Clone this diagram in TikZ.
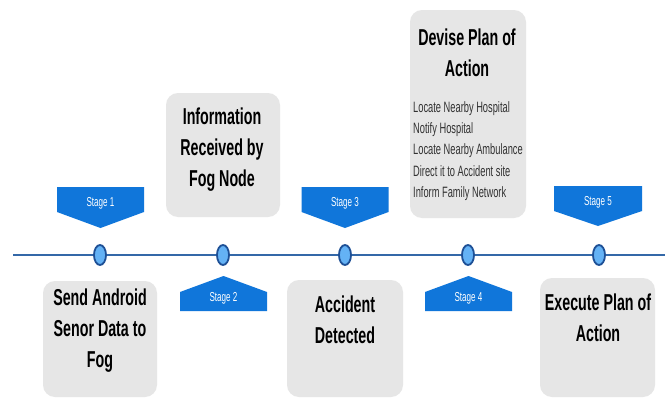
\documentclass[tikz,border=0pt]{standalone}
\usepackage{fontspec}
\setmainfont{Liberation Sans}
\newfontfamily\narrowfont[FakeStretch=0.62]{Liberation Sans}
\usetikzlibrary{shapes.geometric}
\definecolor{stageblue}{RGB}{16,118,218}
\definecolor{boxgray}{RGB}{230,230,230}
\definecolor{linecol}{RGB}{52,104,168}
\definecolor{dotfill}{RGB}{100,178,245}
\definecolor{dotdraw}{RGB}{30,80,150}
\definecolor{listcol}{RGB}{50,50,50}
\tikzset{
 graybox/.style={fill=boxgray, rounded corners=12pt},
 title/.style={font=\narrowfont\bfseries\fontsize{23}{31}\selectfont, align=center, text=black, inner sep=0pt},
 stagelabel/.style={font=\narrowfont\fontsize{13}{15}\selectfont, text=white, inner sep=0pt},
 stageshape/.style={fill=stageblue},
 dot/.style={ellipse, draw=dotdraw, fill=dotfill, line width=1.8pt, minimum width=12pt, minimum height=20pt, inner sep=0pt},
 timeline/.style={draw=linecol, line width=2pt},
 listtext/.style={font=\narrowfont\fontsize{15}{21.3}\selectfont, align=left, text=listcol, inner sep=0pt}
}
\begin{document}
\begin{tikzpicture}[x=1pt,y=-1pt]
\useasboundingbox (0,0) rectangle (665,399);
\fill[white] (0,0) rectangle (665,399);
% gray boxes
\fill[graybox] (43,281) rectangle (157,397);
\fill[graybox] (166,93) rectangle (280,217);
\fill[graybox] (287,280) rectangle (403,397);
\fill[graybox] (410,10) rectangle (526,218);
\fill[graybox] (540,278) rectangle (655,397);
% titles
\node[title] (t1) at (100,331) {Send Android\\Senor Data to\\Fog};
\node[title] (t2) at (222,150) {Information\\Received by\\Fog Node};
\node[title] (t3) at (345,320) {Accident\\Detected};
\node[title] (t4) at (467,53) {Devise Plan of\\Action};
\node[title] (t5) at (598,318) {Execute Plan of\\Action};
\node[listtext, anchor=west] (list) at (413,151) {Locate Nearby Hospital\\Notify Hospital\\Locate Nearby Ambulance\\Direct it to Accident site\\Inform Family Network};
% stage markers (down)
\fill[stageshape] (57,187) -- (144,187) -- (144,212) -- (100.5,228) -- (57,212) -- cycle;
\fill[stageshape] (301.5,187) -- (388.5,187) -- (388.5,212) -- (345,228) -- (301.5,212) -- cycle;
\fill[stageshape] (554,186) -- (642,186) -- (642,211) -- (598,226) -- (554,211) -- cycle;
% stage markers (up)
\fill[stageshape] (180,311) -- (267,311) -- (267,292) -- (223.5,276) -- (180,292) -- cycle;
\fill[stageshape] (425,311) -- (512,311) -- (512,292) -- (468.5,276) -- (425,292) -- cycle;
\node[stagelabel] (s1) at (100.5,203) {Stage 1};
\node[stagelabel] (s2) at (223.5,298) {Stage 2};
\node[stagelabel] (s3) at (345,203) {Stage 3};
\node[stagelabel] (s4) at (468.5,298) {Stage 4};
\node[stagelabel] (s5) at (598,202) {Stage 5};
% timeline
\coordinate (L) at (13,255);
\coordinate (R) at (665,255);
\draw[timeline] (L) -- (R);
\node[dot] (d1) at (100,255) {};
\node[dot] (d2) at (223,255) {};
\node[dot] (d3) at (345,255) {};
\node[dot] (d4) at (468,255) {};
\node[dot] (d5) at (599,255) {};
\end{tikzpicture}
\end{document}
